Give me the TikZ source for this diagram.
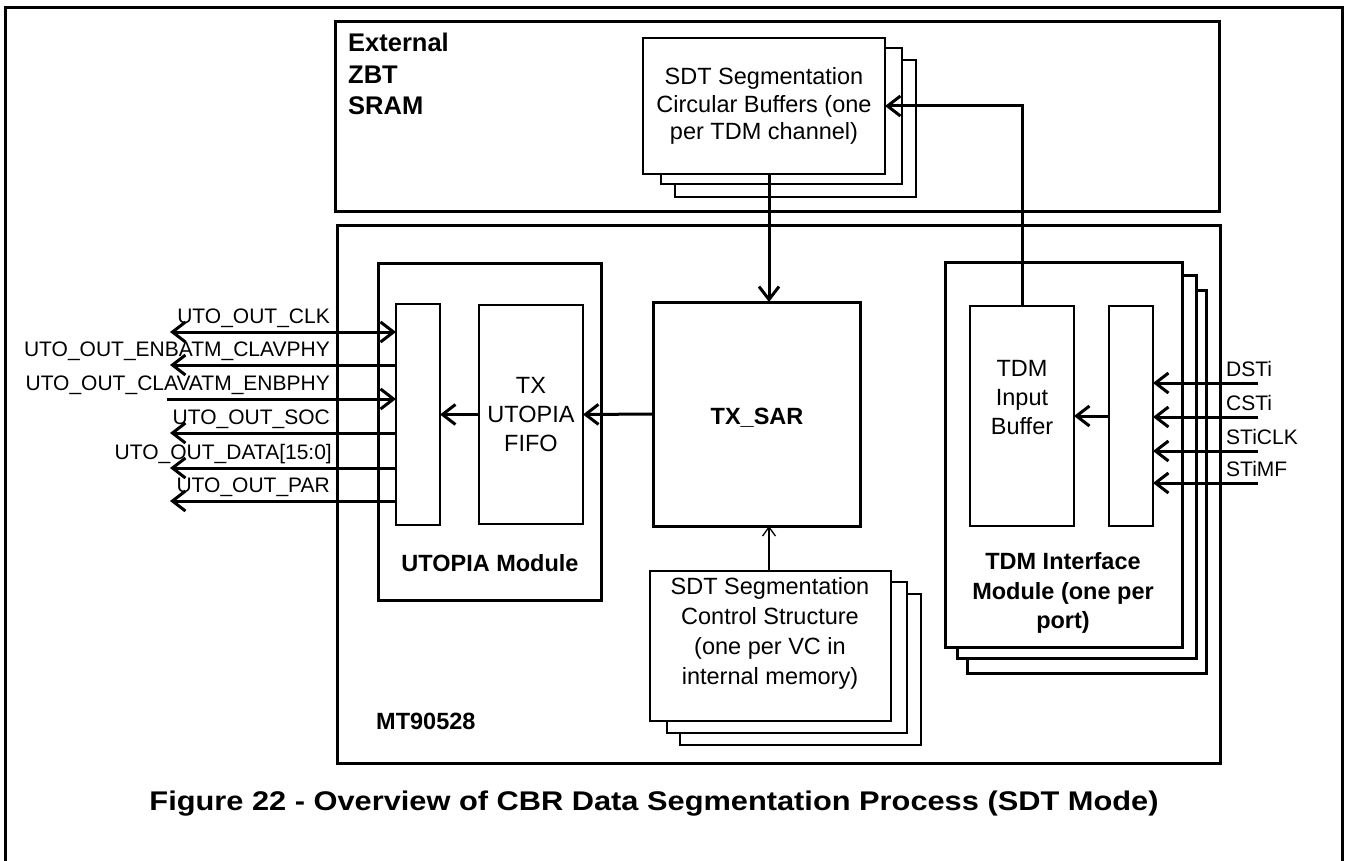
\documentclass[tikz,border=0pt]{standalone}
\usepackage{fontspec}
\setmainfont{Liberation Sans}
\usetikzlibrary{arrows.meta,calc}
\newcommand\mkbox[6][]{\node[bx,#1,minimum width={(#5-#3)*1pt},minimum height={(#6-#4)*1pt}] (#2) at (#3,#4) {};}
\begin{document}
\begin{tikzpicture}[x=1pt,y=-1pt,
  bx/.style={draw,line width=3pt,fill=white,inner sep=0pt,outer sep=0pt,anchor=north west},
  back/.style={line width=2.2pt},
  inner/.style={line width=2.4pt},
  lbl/.style={font=\fontsize{23.5}{29}\selectfont, align=center, inner sep=0pt},
  blbl/.style={font=\fontsize{23.5}{29.5}\selectfont\bfseries, align=center, inner sep=0pt},
  sig/.style={font=\fontsize{21}{25}\selectfont, inner sep=0pt},
  >={Straight Barb[length=13pt,width=20pt]},
  arr/.style={line width=3pt,->},
  biarr/.style={line width=3pt,<->},
  tharr/.style={line width=1.3pt,-{Straight Barb[length=9pt,width=13pt]}},
  wire/.style={line width=3pt}
]
\useasboundingbox (0,0) rectangle (1348,861);
\fill[white] (0,0) rectangle (1348,861);
% outer frame (open at the bottom)
\draw[line width=3pt] (5,875) -- (5,8) -- (1342,8) -- (1342,875);

% big frames
\mkbox{ext}{335}{22}{1219}{211}
\mkbox{mt}{337}{225}{1220}{763}

% circular buffers stack
\mkbox[back]{cb3}{675}{60}{916}{197}
\mkbox[back]{cb2}{661}{48}{902}{184}
\mkbox[inner]{cb1}{643}{38}{885}{174}

% utopia module
\mkbox{utop}{378}{263}{601}{600}
\mkbox[inner]{ul}{396}{304}{440}{525}
\mkbox[inner]{fifo}{479}{305}{583}{524}

% TX_SAR
\mkbox{sar}{653}{302}{860}{526}

% TDM interface module stack
\mkbox{tdm3}{967}{290}{1206}{673}
\mkbox{tdm2}{957}{275}{1196}{658}
\mkbox{tdm1}{945}{262}{1182}{647}
\mkbox[inner]{tib}{970}{306}{1074}{526}
\mkbox[inner]{tr}{1109}{306}{1153}{526}

% SDT control structure stack
\mkbox[back]{sc3}{680}{594}{921}{745}
\mkbox[back]{sc2}{667}{582}{907}{733}
\mkbox[inner]{sc1}{650}{571}{891}{721}

% texts
\node[blbl, align=left, anchor=north west, font=\fontsize{25.5}{31.5}\selectfont\bfseries] (extlbl) at (348,33) {External\\ZBT\\SRAM};
\node[lbl, font=\fontsize{23.5}{27.5}\selectfont] (cbl) at (cb1.center) {SDT Segmentation\\Circular Buffers (one\\per TDM channel)};
\node[lbl] (fifol) at (fifo.center) {TX\\UTOPIA\\FIFO};
\node[blbl] (utopl) at (490,563) {UTOPIA Module};
\node[blbl] (sarl) at (757,418) {TX\_SAR};
\node[lbl] (tibl) at (1022,398) {TDM\\Input\\Buffer};
\node[blbl] (tdml) at (1063,593) {TDM Interface\\Module (one per\\port)};
\node[lbl, font=\fontsize{23.5}{30}\selectfont] (scl) at (770,633) {SDT Segmentation\\Control Structure\\(one per VC in\\internal memory)};
\node[blbl, anchor=west] (mtl) at (376,721) {MT90528};
\node[font=\fontsize{27}{32}\selectfont\bfseries, xscale=1.14, inner sep=0pt] (cap) at (654,804) {Figure 22 - Overview of CBR Data Segmentation Process (SDT Mode)};

% internal connectors
\coordinate (vx) at (769,0);
\draw[arr] (cb1.south -| vx) -- (sar.north -| vx);
\draw[arr] (tib.north) |- (cb1.east);
\draw[arr] (sar.west) -- (fifo.east);
\draw[arr] (fifo.west) -- (ul.east);
\draw[tharr] (sc1.north -| vx) -- (sar.south -| vx);
\draw[arr] (tr.west) -- (tib.east);

% left signals
\coordinate (s1) at (170,332);
\coordinate (s2) at (170,365);
\coordinate (s3) at (167,399);
\coordinate (s4) at (170,433);
\coordinate (s5) at (170,468);
\coordinate (s6) at (170,501);
\draw[biarr] (s1) -- (s1 -| ul.west);
\draw[arr] (s2 -| ul.west) -- (s2);
\draw[arr] (s3) -- (s3 -| ul.west);
\draw[arr] (s4 -| ul.west) -- (s4);
\draw[arr] (s5 -| ul.west) -- (s5);
\draw[arr] (s6 -| ul.west) -- (s6);
\node[sig, anchor=base east] (l1) at (330,323) {UTO\_OUT\_CLK};
\node[sig, anchor=base east] (l2) at (330,356) {UTO\_OUT\_ENBATM\_CLAVPHY};
\node[sig, anchor=base east] (l3) at (330,390) {UTO\_OUT\_CLAVATM\_ENBPHY};
\node[sig, anchor=base east] (l4) at (330,424) {UTO\_OUT\_SOC};
\node[sig, anchor=base east] (l5) at (332,459) {UTO\_OUT\_DATA[15:0]};
\node[sig, anchor=base east] (l6) at (330,492) {UTO\_OUT\_PAR};

% right signals
\coordinate (r1) at (1258,383);
\coordinate (r2) at (1258,417);
\coordinate (r3) at (1258,451);
\coordinate (r4) at (1258,483);
\draw[arr] (r1) -- (r1 -| tr.east);
\draw[arr] (r2) -- (r2 -| tr.east);
\draw[arr] (r3) -- (r3 -| tr.east);
\draw[arr] (r4) -- (r4 -| tr.east);
\node[sig, anchor=base west] (d1) at (1226,376) {DSTi};
\node[sig, anchor=base west] (d2) at (1226,410) {CSTi};
\node[sig, anchor=base west] (d3) at (1226,444) {STiCLK};
\node[sig, anchor=base west] (d4) at (1226,476) {STiMF};
\end{tikzpicture}
\end{document}
